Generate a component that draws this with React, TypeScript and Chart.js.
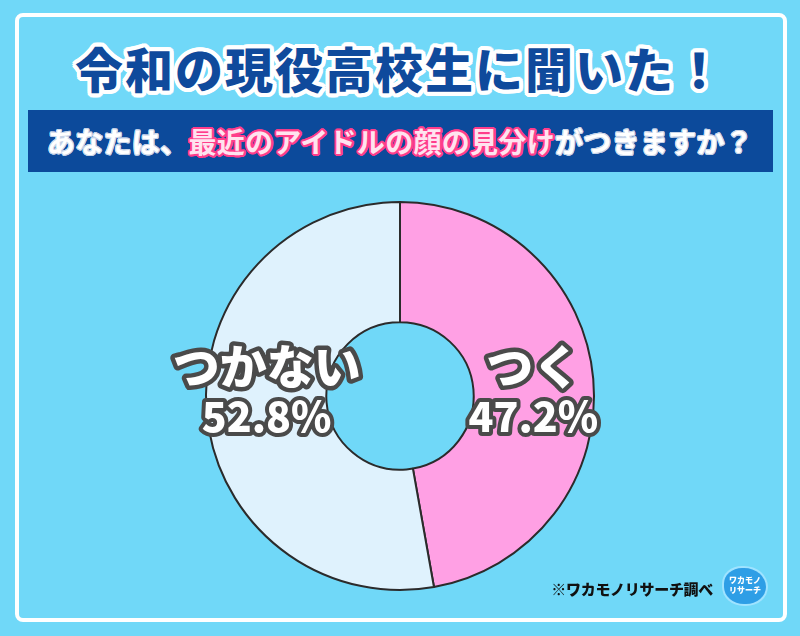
import React, { useEffect, useRef } from "react";
import { Chart, registerables } from "chart.js";

Chart.register(...registerables);

const categories = ["つく", "つかない"];
const values = [47.2, 52.8];
const valueLabels = ["47.2%", "52.8%"];
const sliceColors = ["#ffa0e4", "#dff2fd"];

const BG = "#70d8f8";
const FONT = "'Noto Sans CJK JP', 'Noto Sans', sans-serif";

function outline(color: string, w: number) {
  const s: string[] = [];
  for (let a = 0; a < 16; a++) {
    const t = (a / 16) * Math.PI * 2;
    s.push(`${(Math.cos(t) * w).toFixed(2)}px ${(Math.sin(t) * w).toFixed(2)}px 0 ${color}`);
  }
  return s.join(", ");
}

const labelPlugin = {
  id: "sliceLabels",
  afterDatasetsDraw(chart: any) {
    const ctx = chart.ctx as CanvasRenderingContext2D;
    const meta = chart.getDatasetMeta(0);
    meta.data.forEach((arc: any, i: number) => {
      const pos = arc.tooltipPosition();
      const cy = arc.y;
      const x = pos.x;
      ctx.save();
      ctx.textAlign = "center";
      ctx.textBaseline = "middle";
      ctx.lineJoin = "round";
      ctx.font = `900 47px ${FONT}`;
      ctx.lineWidth = 9;
      ctx.strokeStyle = "#4a4a4a";
      ctx.strokeText(categories[i], x, cy - 30);
      ctx.fillStyle = "#ffffff";
      ctx.fillText(categories[i], x, cy - 30);
      ctx.font = `900 41px ${FONT}`;
      ctx.lineWidth = 8;
      ctx.strokeText(valueLabels[i], x, cy + 20);
      ctx.fillText(valueLabels[i], x, cy + 20);
      ctx.restore();
    });
  },
};

export default function App() {
  const ref = useRef<HTMLCanvasElement | null>(null);

  useEffect(() => {
    if (!ref.current) return;
    const chart = new Chart(ref.current, {
      type: "doughnut",
      data: {
        labels: categories,
        datasets: [
          {
            data: values,
            backgroundColor: sliceColors,
            borderColor: "#2b2b2b",
            borderWidth: 2,
            hoverOffset: 0,
          },
        ],
      },
      options: {
        animation: false,
        responsive: false,
        maintainAspectRatio: false,
        cutout: "38%",
        rotation: 0,
        layout: { padding: { top: 15, bottom: 15 } },
        plugins: {
          legend: { display: false },
          tooltip: { enabled: false },
        },
      },
      plugins: [labelPlugin],
    });
    return () => chart.destroy();
  }, []);

  return (
    <div
      style={{
        position: "absolute",
        left: 0,
        top: 0,
        width: 800,
        height: 636,
        background: BG,
        overflow: "hidden",
        fontFamily: FONT,
      }}
    >
      <div
        style={{
          position: "absolute",
          left: 15,
          top: 13,
          width: 764,
          height: 601,
          border: "4px solid #ffffff",
          borderRadius: 8,
        }}
      />
      <div
        style={{
          position: "absolute",
          left: 0,
          top: 37,
          width: 800,
          textAlign: "center",
          fontSize: 48,
          fontWeight: 900,
          color: "#0f4a9c",
          letterSpacing: 2,
          lineHeight: "60px",
          textShadow: outline("#ffffff", 4),
        }}
      >
        令和の現役高校生に聞いた！
      </div>
      <div
        style={{
          position: "absolute",
          left: 28,
          top: 110,
          width: 745,
          height: 62,
          background: "#0c4a9b",
        }}
      />
      <div
        style={{
          position: "absolute",
          left: 0,
          top: 110,
          width: 800,
          height: 62,
          lineHeight: "62px",
          textAlign: "center",
          fontSize: 28,
          fontWeight: 700,
          color: "#ffffff",
          letterSpacing: 0.3,
          textShadow: outline("#c8d4e8", 1),
        }}
      >
        あなたは、
        <span style={{ color: "#ffe3ef", textShadow: outline("#ff3d8b", 2) }}>
          最近のアイドルの顔の見分け
        </span>
        がつきますか？
      </div>
      <canvas
        ref={ref}
        width={800}
        height={420}
        style={{ position: "absolute", left: 0, top: 186, width: 800, height: 420 }}
      />
      <div
        style={{
          position: "absolute",
          left: 530,
          top: 580,
          width: 183,
          textAlign: "right",
          fontSize: 15,
          fontWeight: 900,
          color: "#111111",
          lineHeight: "18px",
          letterSpacing: -0.3,
        }}
      >
        ※ワカモノリサーチ調べ
      </div>
      <div
        style={{
          position: "absolute",
          left: 724,
          top: 568,
          width: 42,
          height: 36,
          background: "#2e9ee6",
          borderRadius: "45% 55% 50% 50%",
          boxShadow: "0 0 0 2px #9fe3ff",
          color: "#ffffff",
          fontSize: 8,
          fontWeight: 900,
          lineHeight: "10px",
          textAlign: "center",
          paddingTop: 7,
          boxSizing: "border-box",
        }}
      >
        ワカモノ
        <br />
        リサーチ
      </div>
    </div>
  );
}
